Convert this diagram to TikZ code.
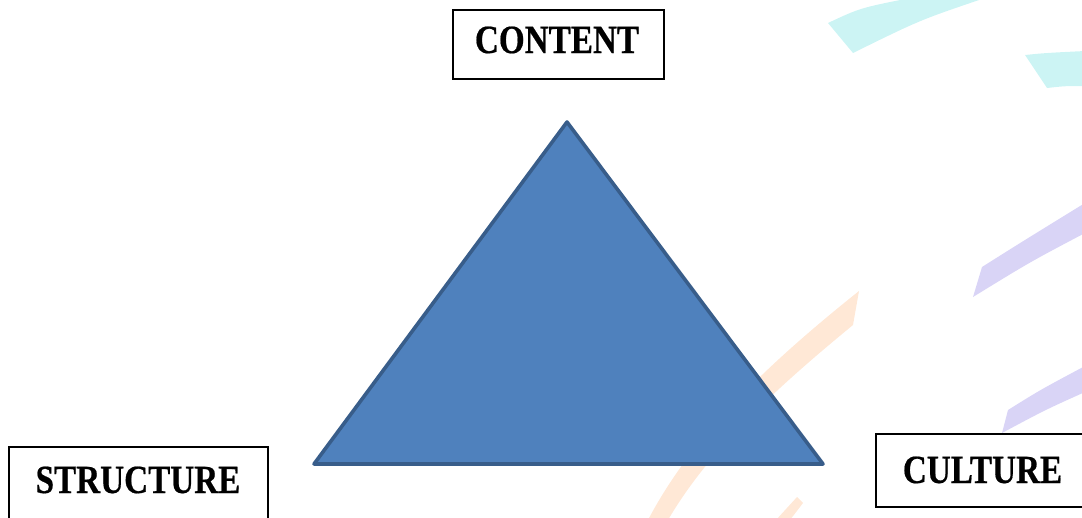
\documentclass[tikz,border=0pt]{standalone}
\usepackage{fontspec}
\newfontfamily\lblfont{Liberation Serif}[FakeStretch=0.83, FakeBold=0.5]
\definecolor{triFill}{HTML}{4F81BD}
\definecolor{triLine}{HTML}{385D8A}
\definecolor{wmCyan}{HTML}{CCF4F4}
\definecolor{wmPurple}{HTML}{D9D4F6}
\definecolor{wmOrange}{HTML}{FFE8D6}
\tikzset{
  boxstyle/.style={draw=black, line width=1.4pt, fill=white, inner sep=0pt},
  lbl/.style={font=\lblfont\bfseries\fontsize{40}{48}\selectfont, inner sep=0pt, anchor=base},
  tri/.style={fill=triFill, draw=triLine, line width=3.6pt, line join=round},
}
\begin{document}
\begin{tikzpicture}[x=1pt, y=-1pt]
\useasboundingbox (0,0) rectangle (1082,517);
\clip (0,0) rectangle (1082,517);
% watermark bands
\fill[wmCyan] (828,23) .. controls (860,8) .. (910,-2) -- (985,-2) .. controls (920,20) .. (853,53) -- cycle;
\fill[wmCyan] (1025,55) .. controls (1045,53) .. (1085,51) -- (1085,86) .. controls (1065,86) .. (1047,88) -- cycle;
\fill[wmPurple] (982,267) .. controls (1020,243) .. (1085,203) -- (1085,233) .. controls (1030,262) .. (973,297) -- cycle;
\fill[wmPurple] (1008,410) .. controls (1040,390) .. (1085,366) -- (1085,392) .. controls (1045,410) .. (1002,433) -- cycle;
\fill[wmOrange] (859,291) .. controls (760,370) and (690,440) .. (648,520) -- (668,520) .. controls (710,448) and (780,385) .. (853,325) -- cycle;
\fill[wmOrange] (797,497) -- (803,503) -- (790,520) -- (776,520) -- cycle;
% triangle
\coordinate (apex) at (567,122);
\coordinate (bl) at (314,464);
\coordinate (br) at (823,464);
\draw[tri] (apex) -- (br) -- (bl) -- cycle;
% boxes
\node[boxstyle, minimum width=211pt, minimum height=69pt] (contentbox) at (558.5,44.5) {};
\node[boxstyle, minimum width=259pt, minimum height=90pt] (structurebox) at (138.5,492) {};
\node[boxstyle, minimum width=222pt, minimum height=73pt] (culturebox) at (987,470.5) {};
% labels
\node[lbl] (content) at (557,53) {CONTENT};
\node[lbl] (structure) at (138,493) {STRUCTURE};
\node[lbl] (culture) at (982.5,483) {CULTURE};
\end{tikzpicture}
\end{document}
